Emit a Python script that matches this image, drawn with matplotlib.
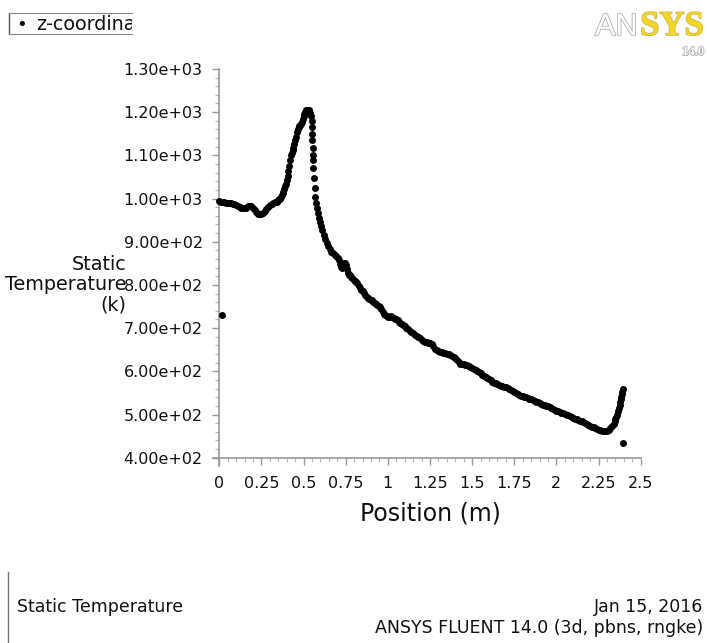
import matplotlib
matplotlib.use("Agg")
import matplotlib.pyplot as plt
import matplotlib.patheffects as pe
from matplotlib.lines import Line2D
from matplotlib.ticker import MultipleLocator
from matplotlib.transforms import Bbox, TransformedBbox

# ---------------- data ----------------
position = [
    0.00, 0.01, 0.02, 0.03, 0.04, 0.05, 0.06, 0.07, 0.08, 0.09,
    0.10, 0.11, 0.12, 0.13, 0.14, 0.15, 0.16, 0.17, 0.18, 0.19,
    0.20, 0.21, 0.22, 0.23, 0.24, 0.25, 0.26, 0.27, 0.28, 0.29,
    0.30, 0.31, 0.32, 0.33, 0.34, 0.35,
    0.355, 0.360, 0.365, 0.370, 0.375, 0.380, 0.385, 0.390, 0.395, 0.400,
    0.405, 0.410, 0.415, 0.420, 0.425, 0.430, 0.435, 0.440, 0.445, 0.450,
    0.455, 0.460, 0.465, 0.470, 0.475, 0.480, 0.485, 0.490, 0.495, 0.500,
    0.505, 0.510, 0.515, 0.520, 0.525, 0.530, 0.535, 0.540, 0.545,
    0.548, 0.549, 0.551, 0.552, 0.553, 0.555, 0.556, 0.558, 0.560, 0.565,
    0.570, 0.575, 0.580, 0.586, 0.592, 0.598, 0.605, 0.612, 0.620, 0.628,
    0.636, 0.645, 0.655, 0.665, 0.675, 0.685, 0.695, 0.705, 0.712, 0.718,
    0.724, 0.730, 0.736, 0.742, 0.748, 0.754, 0.760, 0.766, 0.772, 0.778,
    0.784, 0.790, 0.797, 0.804, 0.811, 0.818, 0.826, 0.834, 0.842, 0.850,
    0.858, 0.866, 0.874, 0.882, 0.890, 0.898, 0.906, 0.914, 0.922, 0.930,
    0.938, 0.946, 0.954, 0.962, 0.970, 0.978, 0.986, 0.994, 1.002, 1.010,
    1.018, 1.026, 1.034, 1.042, 1.050, 1.058, 1.066, 1.074, 1.082, 1.090,
    1.100, 1.110, 1.120, 1.130, 1.140, 1.150, 1.160, 1.170, 1.180, 1.190,
    1.200, 1.210, 1.220, 1.230, 1.240, 1.250, 1.260, 1.270, 1.280, 1.290,
    1.300, 1.310, 1.320, 1.330, 1.340, 1.350, 1.360, 1.370, 1.380, 1.390,
    1.400, 1.410, 1.420, 1.430, 1.440, 1.450, 1.460, 1.470, 1.480, 1.490,
    1.500, 1.510, 1.520, 1.530, 1.540, 1.550, 1.560, 1.570, 1.580, 1.590,
    1.600, 1.610, 1.620, 1.630, 1.640, 1.650, 1.660, 1.670, 1.680, 1.690,
    1.700, 1.710, 1.720, 1.730, 1.740, 1.750, 1.760, 1.770, 1.780, 1.790,
    1.800, 1.810, 1.820, 1.830, 1.840, 1.850, 1.860, 1.870, 1.880, 1.890,
    1.900, 1.910, 1.920, 1.930, 1.940, 1.950, 1.960, 1.970, 1.980, 1.990,
    2.000, 2.010, 2.020, 2.030, 2.040, 2.050, 2.060, 2.070, 2.080, 2.090,
    2.100, 2.110, 2.120, 2.130, 2.140, 2.150, 2.160, 2.170, 2.180, 2.190,
    2.200, 2.210, 2.220, 2.230, 2.240, 2.250, 2.260, 2.270, 2.280, 2.290,
    2.300, 2.310, 2.320, 2.330, 2.340, 2.345, 2.350, 2.355, 2.360, 2.365,
    2.370, 2.375, 2.380, 2.383, 2.386, 2.389, 2.392, 2.395,
]
temperature = [
    994, 993, 992, 991, 990, 990, 989, 989, 988, 987,
    985, 983, 981, 979, 977, 977, 979, 982, 983, 982,
    979, 974, 969, 965, 963, 963, 966, 971, 976, 980,
    984, 987, 989, 991, 993, 996,
    998, 1000, 1004, 1008, 1012, 1016, 1022, 1028, 1034, 1042,
    1053, 1064, 1076, 1090, 1100, 1106, 1112, 1118, 1126, 1135,
    1143, 1153, 1162, 1166, 1167, 1169, 1173, 1178, 1184, 1190,
    1196, 1201, 1204, 1206, 1206, 1205, 1203, 1199, 1192,
    1180, 1166, 1150, 1135, 1116, 1100, 1089, 1070, 1047, 1024,
    1004, 990, 978, 966, 956, 946, 936, 926, 916, 906,
    897, 889, 882, 877, 873, 870, 867, 863, 857, 848,
    841, 840, 846, 851, 850, 845, 836, 828, 824, 822,
    819, 815, 811, 808, 806, 804, 798, 792, 788, 785,
    781, 777, 773, 770, 768, 766, 764, 761, 758, 755,
    753, 751, 749, 744, 738, 733, 730, 727, 726, 726,
    727, 726, 724, 722, 721, 718, 714, 711, 709, 707,
    704, 700, 697, 694, 691, 688, 685, 682, 679, 676,
    673, 670, 668, 667, 666, 665, 663, 658, 652, 649,
    647, 645, 644, 643, 642, 641, 640, 638, 636, 634,
    631, 626, 621, 618, 617, 616, 615, 614, 612, 610,
    607, 605, 603, 601, 598, 595, 592, 590, 588, 585,
    582, 579, 576, 574, 572, 570, 568, 566, 565, 564,
    563, 561, 558, 556, 554, 552, 550, 548, 546, 544,
    543, 541, 540, 538, 537, 535, 533, 531, 530, 528,
    526, 525, 523, 521, 520, 519, 517, 515, 513, 511,
    509, 507, 505, 504, 503, 502, 500, 498, 496, 494,
    492, 490, 489, 488, 486, 484, 482, 480, 478, 476,
    474, 472, 470, 468, 466, 465, 464, 463, 462, 462,
    463, 465, 468, 473, 479, 484, 489, 494, 500, 507,
    514, 521, 529, 535, 541, 547, 553, 558,
]
outlier_position = [0.014, 2.397]
outlier_temperature = [730, 433]

x_ticks = [0, 0.25, 0.5, 0.75, 1, 1.25, 1.5, 1.75, 2, 2.25, 2.5]
x_tick_labels = ["0", "0.25", "0.5", "0.75", "1", "1.25", "1.5", "1.75", "2", "2.25", "2.5"]
y_ticks = [400, 500, 600, 700, 800, 900, 1000, 1100, 1200, 1300]
y_tick_labels = ["4.00e+02", "5.00e+02", "6.00e+02", "7.00e+02", "8.00e+02",
                 "9.00e+02", "1.00e+03", "1.10e+03", "1.20e+03", "1.30e+03"]

# ---------------- figure ----------------
W, H = 707, 643
fig = plt.figure(figsize=(W / 100, H / 100), dpi=100)
fig.patch.set_facecolor("white")


def fx(px):
    return px / W


def fy(py):
    return 1 - py / H


axis_gray = "#9a9a9a"
ax = fig.add_axes([fx(213.4), fy(465.5), 427.3 / W, 396.6 / H])
ax.set_xlim(-0.035, 2.5)
ax.set_ylim(382, 1300)
ax.patch.set_alpha(0)

for s in ("top", "right"):
    ax.spines[s].set_visible(False)
ax.spines["left"].set_position(("data", 0))
ax.spines["bottom"].set_position(("data", 400))
for s in ("left", "bottom"):
    ax.spines[s].set_color(axis_gray)
    ax.spines[s].set_linewidth(1.2)

ax.set_xticks(x_ticks, x_tick_labels)
ax.set_yticks(y_ticks, y_tick_labels)
ax.xaxis.set_minor_locator(MultipleLocator(0.05))
ax.yaxis.set_minor_locator(MultipleLocator(20))
ax.tick_params(which="major", direction="out", length=5, width=1.0,
               color=axis_gray, labelsize=11.5, labelcolor="#111111")
ax.tick_params(which="minor", direction="out", length=3, width=0.8, color="#b5b5b5")
ax.tick_params(axis="x", which="major", pad=8)
ax.tick_params(axis="y", which="major", pad=7)

ax.plot(position, temperature, "o", color="black", markersize=5,
        markeredgewidth=0, clip_on=False, zorder=3)
ax.plot(outlier_position, outlier_temperature, "o", color="black", markersize=5,
        markeredgewidth=0, clip_on=False, zorder=3)

# axis titles
fig.text(fx(430.5), fy(520), "Position (m)", ha="center", va="baseline",
         fontsize=17, color="#111111")
fig.text(fx(126.5), fy(255), "Static\nTemperature\n(k)", ha="right", va="top",
         multialignment="right", fontsize=13.8, linespacing=1.08, color="#111111")

# legend box (top-left)
box_col = "#555555"
fig.add_artist(Line2D([fx(9.3), fx(9.3)], [fy(13.3), fy(34.3)], color=box_col, lw=1.0))
fig.add_artist(Line2D([fx(9.3), fx(131.7)], [fy(13.3), fy(13.3)], color="#888888", lw=0.8))
fig.add_artist(Line2D([fx(9.3), fx(131.7)], [fy(34.3), fy(34.3)], color="#888888", lw=0.8))
fig.text(fx(21.7), fy(24.5), "\u2022", ha="center", va="center", fontsize=13, color="black")
leg = fig.text(fx(36), fy(30), "z-coordinate", ha="left", va="baseline",
               fontsize=13.8, color="#111111")
leg.set_clip_box(TransformedBbox(Bbox([[0, 0], [fx(131.7), 1]]), fig.transFigure))
leg.set_clip_on(True)

# ANSYS logo (top-right)
outline = [pe.withStroke(linewidth=1.2, foreground="#b0b0b0")]
fig.text(fx(637.5), fy(35), "AN", ha="right", va="baseline", fontsize=22,
         family="Liberation Sans", color="white", path_effects=outline)
fig.text(fx(704), fy(35), "SYS", ha="right", va="baseline", fontsize=25,
         family="Liberation Serif", weight="bold", color="#f2d62a",
         path_effects=[pe.withStroke(linewidth=1.0, foreground="#c9b040")])
fig.text(fx(704), fy(55), "14.0", ha="right", va="baseline", fontsize=9,
         family="Liberation Serif", weight="bold", color="white", path_effects=outline)

# footer
fig.add_artist(Line2D([fx(7.5), fx(7.5)], [fy(572), fy(643)], color="#777777", lw=1.0))
fig.text(fx(17), fy(612.5), "Static Temperature", ha="left", va="baseline",
         fontsize=12.5, color="#111111")
fig.text(fx(703), fy(612.5), "Jan 15, 2016", ha="right", va="baseline",
         fontsize=12.5, color="#111111")
fig.text(fx(703), fy(633), "ANSYS FLUENT 14.0 (3d, pbns, rngke)", ha="right",
         va="baseline", fontsize=12.5, color="#111111")

fig.savefig("out.png", dpi=100, facecolor="white")
